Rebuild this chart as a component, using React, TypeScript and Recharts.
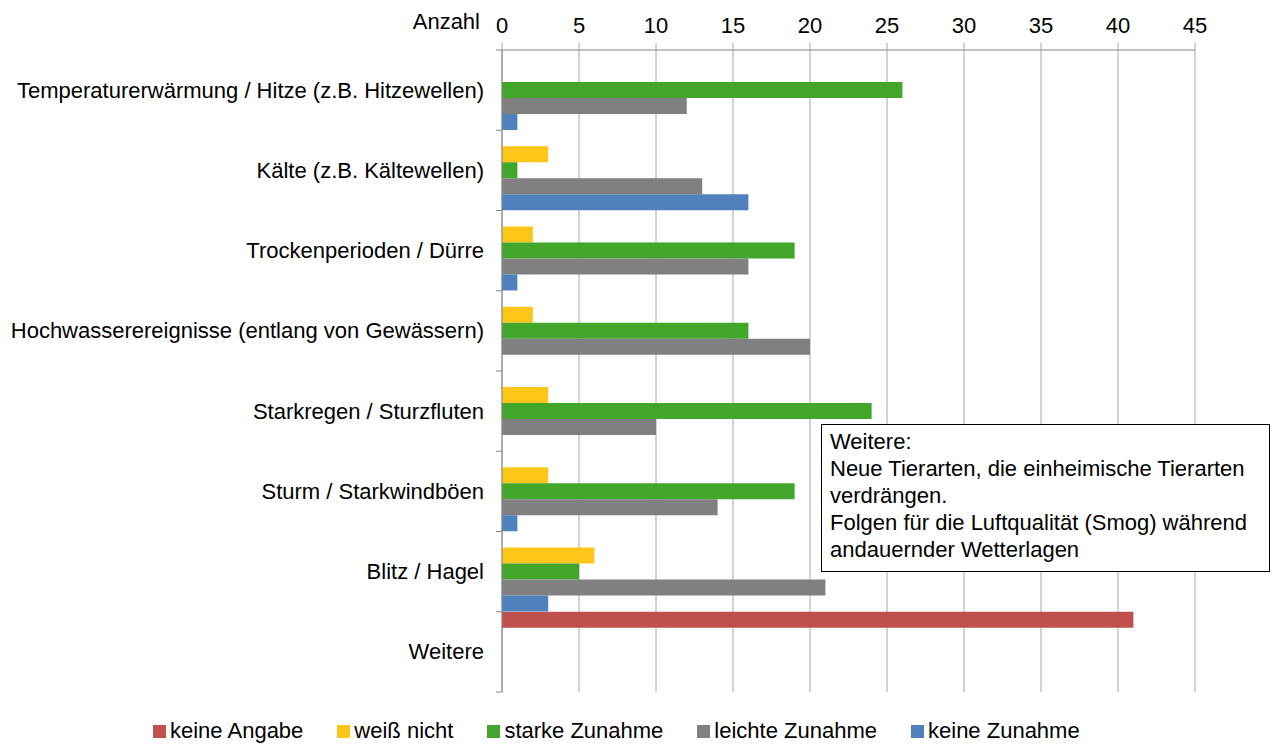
import { BarChart, Bar, XAxis, YAxis, CartesianGrid, Legend, Label } from "recharts"

const categories = [
  "Temperaturerwärmung / Hitze (z.B. Hitzewellen)",
  "Kälte (z.B. Kältewellen)",
  "Trockenperioden / Dürre",
  "Hochwasserereignisse (entlang von Gewässern)",
  "Starkregen / Sturzfluten",
  "Sturm / Starkwindböen",
  "Blitz / Hagel",
  "Weitere",
]
const keineAngabe = [0, 0, 0, 0, 0, 0, 0, 41]
const weissNicht = [0, 3, 2, 2, 3, 3, 6, 0]
const starkeZunahme = [26, 1, 19, 16, 24, 19, 5, 0]
const leichteZunahme = [12, 13, 16, 20, 10, 14, 21, 0]
const keineZunahme = [1, 16, 1, 0, 0, 1, 3, 0]
const xTicks = [0, 5, 10, 15, 20, 25, 30, 35, 40, 45]

const series = [
  { key: "keineAngabe", name: "keine Angabe", color: "#C0504D" },
  { key: "weissNicht", name: "weiß nicht", color: "#FFC61A" },
  { key: "starkeZunahme", name: "starke Zunahme", color: "#41A62A" },
  { key: "leichteZunahme", name: "leichte Zunahme", color: "#808080" },
  { key: "keineZunahme", name: "keine Zunahme", color: "#4F81BD" },
]

const data = categories.map((name, i) => ({
  name,
  keineAngabe: keineAngabe[i],
  weissNicht: weissNicht[i],
  starkeZunahme: starkeZunahme[i],
  leichteZunahme: leichteZunahme[i],
  keineZunahme: keineZunahme[i],
}))

const FONT = '"Liberation Sans", Arial, sans-serif'
const FS = 22
const AXIS = "#868686"
const GRID = "#A6A6A6"

function CategoryTick(props: any) {
  const { x, y, payload, index } = props
  const half = payload && payload.offset ? payload.offset : 40
  const ax = x + 18
  return (
    <g>
      <line x1={ax - 6} x2={ax} y1={y - half} y2={y - half} stroke={AXIS} />
      {index === categories.length - 1 && (
        <line x1={ax - 6} x2={ax} y1={y + half} y2={y + half} stroke={AXIS} />
      )}
      <text x={x} y={y} textAnchor="end" dominantBaseline="central" fontSize={FS} fill="#000" fontFamily={FONT}>
        {payload.value}
      </text>
    </g>
  )
}

function LegendContent() {
  return (
    <div style={{ height: 54, display: "flex", alignItems: "flex-end", paddingLeft: 145, fontFamily: FONT, fontSize: FS }}>
      <div style={{ display: "flex", alignItems: "center", height: 30 }}>
        {series.map((s) => (
          <div key={s.key} style={{ display: "flex", alignItems: "center", marginRight: 34 }}>
            <span style={{ display: "inline-block", width: 13, height: 13, background: s.color, marginRight: 4 }} />
            <span style={{ color: "#000" }}>{s.name}</span>
          </div>
        ))}
      </div>
    </div>
  )
}

function AnzahlLabel(props: any) {
  const vb = props.viewBox || { x: 494, y: 0, height: 42 }
  return (
    <text x={vb.x - 22} y={vb.y + vb.height - 21} textAnchor="end" fontSize={FS} fill="#000" fontFamily={FONT}>
      Anzahl
    </text>
  )
}

export default function App() {
  return (
    <div style={{ position: "relative", width: 1270, height: 745, fontFamily: FONT }}>
      <BarChart
        width={1270}
        height={745}
        data={data}
        layout="vertical"
        margin={{ top: 0, right: 83, bottom: 7, left: 0 }}
        barCategoryGap={0}
        barGap={0}
      >
        <CartesianGrid horizontal={false} stroke={GRID} />
        <XAxis
          type="number"
          orientation="top"
          domain={[0, 45]}
          ticks={xTicks}
          interval={0}
          height={42}
          tickSize={7}
          tickMargin={10}
          axisLine={{ stroke: AXIS }}
          tickLine={{ stroke: GRID }}
          tick={{ fill: "#000", fontSize: FS, fontFamily: FONT }}
        >
          <Label content={<AnzahlLabel />} />
        </XAxis>
        <YAxis
          type="category"
          dataKey="name"
          width={494}
          interval={0}
          tickLine={false}
          tickSize={0}
          tickMargin={18}
          axisLine={{ stroke: AXIS }}
          tick={<CategoryTick />}
        />
        <Legend verticalAlign="bottom" content={<LegendContent />} />
        {series.map((s) => (
          <Bar key={s.key} dataKey={s.key} name={s.name} fill={s.color} isAnimationActive={false} />
        ))}
      </BarChart>
      <div
        style={{
          position: "absolute",
          left: 813,
          top: 416,
          width: 449,
          height: 148,
          boxSizing: "border-box",
          border: "1.5px solid #000",
          background: "#fff",
          padding: "3px 8px",
          fontSize: FS,
          lineHeight: "27px",
          color: "#000",
        }}
      >
        Weitere:
        <br />
        Neue Tierarten, die einheimische Tierarten
        <br />
        verdrängen.
        <br />
        Folgen für die Luftqualität (Smog) während
        <br />
        andauernder Wetterlagen
      </div>
    </div>
  )
}
